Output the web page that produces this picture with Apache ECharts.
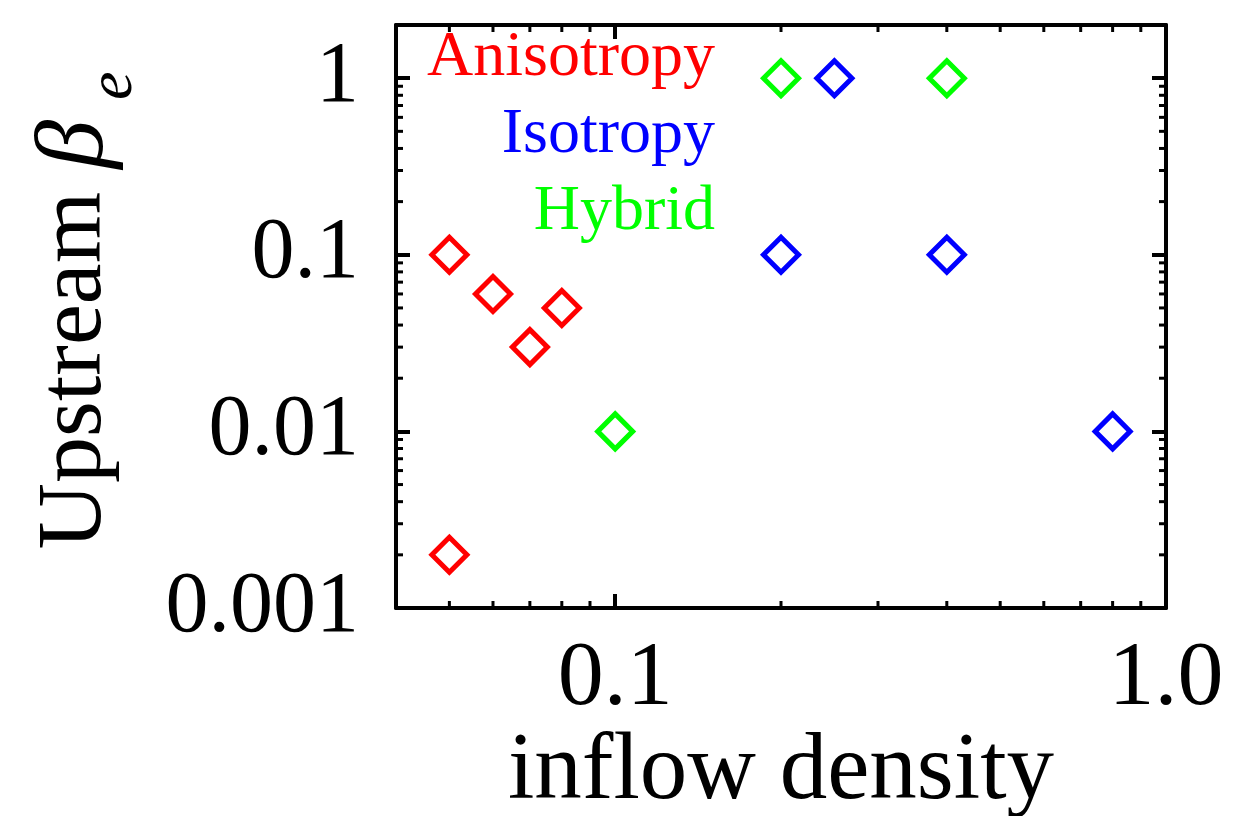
<!DOCTYPE html>
<html>
<head>
<meta charset="utf-8">
<title>Upstream beta_e vs inflow density</title>
<script src="https://cdn.jsdelivr.net/npm/echarts@6/dist/echarts.min.js"></script>
<style>
  html, body { margin: 0; padding: 0; background: #fff; }
  #chart { width: 1238px; height: 816px; }
</style>
</head>
<body>
<div id="chart"></div>
<script>
// data
const anisoX = [0.05, 0.06, 0.07, 0.08, 0.05];
const anisoY = [0.1, 0.06, 0.03, 0.05, 0.002];
const isoX = [0.25, 0.2, 0.4, 0.8];
const isoY = [1, 0.1, 0.1, 0.01];
const hybridX = [0.1, 0.2, 0.4];
const hybridY = [0.01, 1, 1];

const seriesNames = ['Anisotropy', 'Isotropy', 'Hybrid'];
const seriesColors = ['#ff0000', '#0000ff', '#00ff00'];

// axes
const xMin = 0.04, xMax = 1;
const yMin = 0.001, yMax = 2;
const xTickValues = [0.1, 1];
const xTickLabels = ['0.1', '1.0'];
const yTickValues = [0.001, 0.01, 0.1, 1];
const yTickLabels = ['0.001', '0.01', '0.1', '1'];
const xMinorTicks = [0.05, 0.06, 0.07, 0.08, 0.09, 0.2, 0.3, 0.4, 0.5, 0.6, 0.7, 0.8, 0.9];
const yMinorTicks = [0.002, 0.003, 0.004, 0.005, 0.006, 0.007, 0.008, 0.009,
  0.02, 0.03, 0.04, 0.05, 0.06, 0.07, 0.08, 0.09,
  0.2, 0.3, 0.4, 0.5, 0.6, 0.7, 0.8, 0.9];

const FONT = "'Liberation Serif', 'Times New Roman', serif";
const MINOR_LEN = 7;

function pairs(xs, ys) {
  return xs.map((x, i) => [x, ys[i]]);
}

function logLabel(values, labels) {
  return function (v) {
    const i = values.findIndex(t => Math.abs(Math.log10(v) - Math.log10(t)) < 1e-6);
    return i >= 0 ? labels[i] : '';
  };
}

// minor ticks on both sides of the box, placed through the axes
function minorTicks(isX) {
  return function (params, api) {
    const cs = params.coordSys;
    const v = api.value(isX ? 0 : 1);
    const p = api.coord(isX ? [v, yMin] : [xMin, v]);
    const style = { stroke: '#000', lineWidth: 3 };
    if (isX) {
      const b = cs.y + cs.height;
      return { type: 'group', children: [
        { type: 'line', shape: { x1: p[0], y1: b, x2: p[0], y2: b - MINOR_LEN }, style: style },
        { type: 'line', shape: { x1: p[0], y1: cs.y, x2: p[0], y2: cs.y + MINOR_LEN }, style: style }
      ] };
    }
    const r = cs.x + cs.width;
    return { type: 'group', children: [
      { type: 'line', shape: { x1: cs.x, y1: p[1], x2: cs.x + MINOR_LEN, y2: p[1] }, style: style },
      { type: 'line', shape: { x1: r, y1: p[1], x2: r - MINOR_LEN, y2: p[1] }, style: style }
    ] };
  };
}

const axisLine = { show: true, onZero: false, lineStyle: { color: '#000', width: 4 } };
const majorTick = { show: true, inside: true, length: 14, lineStyle: { color: '#000', width: 4 } };

function xAxisCfg(pos, withLabels) {
  return {
    type: 'log', logBase: 10, min: xMin, max: xMax, position: pos,
    axisLine: axisLine, axisTick: majorTick, splitLine: { show: false },
    axisLabel: withLabels ? {
      show: true, margin: 26, fontSize: 92, fontFamily: FONT, color: '#000',
      formatter: logLabel(xTickValues, xTickLabels)
    } : { show: false },
    name: withLabels ? 'inflow density' : '',
    nameLocation: 'middle', nameGap: 118, nameMoveOverlap: false,
    nameTextStyle: { fontSize: 95, fontFamily: FONT, color: '#000' }
  };
}

function yAxisCfg(pos, withLabels) {
  return {
    type: 'log', logBase: 10, min: yMin, max: yMax, position: pos,
    axisLine: axisLine, axisTick: majorTick, splitLine: { show: false },
    axisLabel: withLabels ? {
      show: true, margin: 37, fontSize: 86, fontFamily: FONT, color: '#000',
      padding: [0, 0, 10, 0],
      formatter: logLabel(yTickValues, yTickLabels)
    } : { show: false },
    name: withLabels ? '{a|Upstream }{b|β}{c|e}' : '',
    nameLocation: 'middle', nameRotate: 90, nameGap: 250, nameMoveOverlap: false,
    nameTextStyle: {
      padding: [0, 0, 0, 12],
      rich: {
        a: { fontSize: 92, fontFamily: FONT, color: '#000', lineHeight: 140 },
        b: { fontSize: 98, fontFamily: FONT, fontStyle: 'italic', color: '#000', lineHeight: 140, padding: [0, 20, 0, 0] },
        c: { fontSize: 64, fontFamily: FONT, fontStyle: 'italic', color: '#000', lineHeight: 1, verticalAlign: 'bottom' }
      }
    }
  };
}

const legendTops = [26, 103, 180];

const option = {
  backgroundColor: '#fff',
  animation: false,
  grid: { left: 396, right: 72, top: 25, bottom: 208, containLabel: false, outerBoundsMode: 'none' },
  xAxis: [xAxisCfg('bottom', true), xAxisCfg('top', false)],
  yAxis: [yAxisCfg('left', true), yAxisCfg('right', false)],
  legend: seriesNames.map((name, i) => ({
    data: [name], right: 523, top: legendTops[i], padding: 0,
    icon: 'none', itemWidth: 0, itemHeight: 0, selectedMode: false,
    textStyle: { color: seriesColors[i], fontSize: 64, fontFamily: FONT }
  })),
  series: [
    [anisoX, anisoY], [isoX, isoY], [hybridX, hybridY]
  ].map((d, i) => ({
    name: seriesNames[i],
    type: 'scatter',
    symbol: 'diamond',
    symbolSize: 35,
    data: pairs(d[0], d[1]),
    itemStyle: { color: 'rgba(0,0,0,0)', borderColor: seriesColors[i], borderWidth: 5, opacity: 1 }
  })).concat([
    {
      type: 'custom', name: 'xminor', silent: true,
      data: xMinorTicks.map(v => [v, yMin]),
      encode: { x: 0, y: 1 },
      renderItem: minorTicks(true)
    },
    {
      type: 'custom', name: 'yminor', silent: true,
      data: yMinorTicks.map(v => [xMin, v]),
      encode: { x: 0, y: 1 },
      renderItem: minorTicks(false)
    }
  ])
};

const chart = echarts.init(document.getElementById('chart'));
chart.setOption(option);
</script>
</body>
</html>
